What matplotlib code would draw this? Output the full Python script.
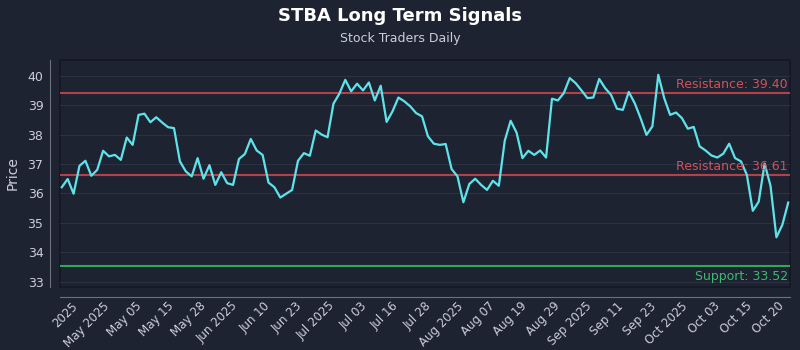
"""STBA long term signals chart: price line with resistance / support levels."""

import matplotlib
matplotlib.use("Agg")
import matplotlib.pyplot as plt
import numpy as np

# daily closes
prices = [
    36.21, 36.49, 35.99, 36.94, 37.11, 36.60, 36.80, 37.45, 37.26, 37.31,
    37.14, 37.90, 37.65, 38.67, 38.71, 38.42, 38.59, 38.41, 38.25, 38.22,
    37.09, 36.75, 36.58, 37.20, 36.50, 36.96, 36.29, 36.72, 36.35, 36.29,
    37.17, 37.34, 37.85, 37.46, 37.31, 36.37, 36.21, 35.86, 35.99, 36.12,
    37.11, 37.37, 37.28, 38.14, 38.00, 37.91, 39.05, 39.39, 39.86, 39.47,
    39.73, 39.50, 39.77, 39.16, 39.66, 38.43, 38.79, 39.26, 39.13, 38.96,
    38.73, 38.62, 37.94, 37.69, 37.65, 37.68, 36.83, 36.58, 35.70, 36.32,
    36.50, 36.29, 36.12, 36.43, 36.26, 37.79, 38.47, 38.07, 37.20, 37.45,
    37.31, 37.46, 37.22, 39.22, 39.16, 39.41, 39.92, 39.75, 39.50, 39.24,
    39.26, 39.89, 39.58, 39.35, 38.88, 38.84, 39.45, 39.07, 38.56, 37.99,
    38.28, 40.03, 39.24, 38.67, 38.75, 38.56, 38.20, 38.26, 37.60, 37.46,
    37.29, 37.22, 37.35, 37.69, 37.20, 37.09, 36.63, 35.41, 35.72, 37.01,
    36.26, 34.51, 34.93, 35.69,
]

tick_labels = [
    "2025", "May 2025", "May 05", "May 15", "May 28", "Jun 2025", "Jun 10",
    "Jun 23", "Jul 2025", "Jul 03", "Jul 16", "Jul 28", "Aug 2025", "Aug 07",
    "Aug 19", "Aug 29", "Sep 2025", "Sep 11", "Sep 23", "Oct 2025", "Oct 03",
    "Oct 15", "Oct 20",
]

resistance_levels = [39.40, 36.61]
support_levels = [33.52]

BG = "#1e2332"
TEXT = "#c9ced8"
FONT = ["Liberation Sans Narrow", "DejaVu Sans"]

plt.rcParams["font.family"] = FONT

fig = plt.figure(figsize=(8, 3.5), dpi=100, facecolor=BG)
ax = fig.add_axes([0.075, 0.18, 0.9125, 0.649])
ax.set_facecolor(BG)

# spines first: moving a spine resets the ticks
for side in ("top", "right"):
    ax.spines[side].set_visible(False)
for side in ("left", "bottom"):
    ax.spines[side].set_position(("outward", 7))
    ax.spines[side].set_color("#6b7180")
    ax.spines[side].set_linewidth(0.8)

x = np.arange(len(prices))
ax.plot(x, prices, color="#5ee3ea", lw=1.6, zorder=3)

for lvl in resistance_levels:
    ax.axhline(lvl, color="#c4454e", lw=1.5, alpha=0.9, zorder=2)
    ax.text(0.997, lvl + 0.08, f"Resistance: {lvl:.2f}", transform=ax.get_yaxis_transform(),
            ha="right", va="bottom", color="#cf525b", fontsize=9, zorder=4)
for lvl in support_levels:
    ax.axhline(lvl, color="#2ea85a", lw=1.5, zorder=2)
    ax.text(0.997, lvl - 0.12, f"Support: {lvl:.2f}", transform=ax.get_yaxis_transform(),
            ha="right", va="top", color="#3dba6e", fontsize=9, zorder=4)

ax.set_xlim(-0.3, len(prices) - 0.7)
ax.set_ylim(32.82, 40.54)
ax.set_yticks(range(33, 41))
ax.grid(axis="y", color="#2b3244", lw=0.8, zorder=0)

ax.tick_params(axis="both", colors=TEXT, labelsize=9, length=0)
ax.tick_params(axis="x", pad=2, labelsize=8.5)
ax.tick_params(axis="y", pad=5)
ax.set_xticks(np.linspace(3.1, 122.8, len(tick_labels)))
ax.set_xticklabels(tick_labels, rotation=45, ha="right", rotation_mode="default")

ax.set_ylabel("Price", color=TEXT, fontsize=10)
ax.yaxis.set_label_coords(-0.055, 0.5)

# dark frame around the plotting area
ax.patch.set_edgecolor("#131722")
ax.patch.set_linewidth(1.2)

fig.text(0.5, 0.955, "STBA Long Term Signals", ha="center", va="center",
         color="white", fontsize=13, fontweight="bold")
fig.text(0.5, 0.89, "Stock Traders Daily", ha="center", va="center",
         color=TEXT, fontsize=9)

fig.savefig("out.png", dpi=100, facecolor=BG)
